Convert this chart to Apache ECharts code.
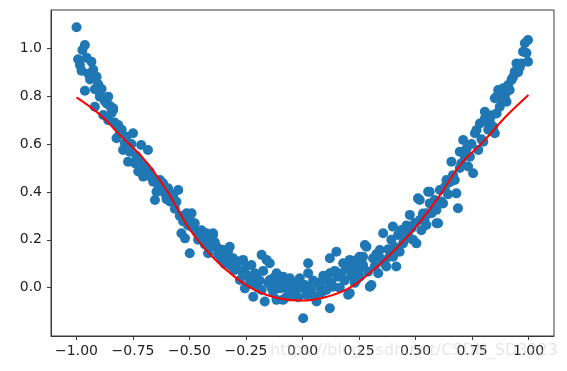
<!DOCTYPE html>
<html>
<head>
<meta charset="utf-8">
<script src="https://cdn.jsdelivr.net/npm/echarts@6/dist/echarts.min.js"></script>
<style>html,body{margin:0;padding:0;background:#fff;}#c{width:567px;height:371px;}</style>
</head>
<body>
<div id="c"></div>
<script>
var xTicks = [-1.0, -0.75, -0.5, -0.25, 0.0, 0.25, 0.5, 0.75, 1.0];
var yTicks = [0.0, 0.2, 0.4, 0.6, 0.8, 1.0];

var scatterPts = [
[-1.0,1.088],[-0.993,0.954],[-0.985,0.93],[-0.978,0.906],[-0.974,0.993],[-0.963,1.014],[-0.963,0.823],[-0.955,0.96],[-0.948,0.894],[-0.94,0.87],[-0.934,0.944],[-0.926,0.91],[-0.919,0.829],[-0.919,0.756],[-0.911,0.881],[-0.904,0.85],
[-0.897,0.798],[-0.889,0.83],[-0.882,0.721],[-0.875,0.78],[-0.867,0.770],[-0.86,0.798],[-0.86,0.70],[-0.853,0.76],[-0.845,0.73],[-0.838,0.749],[-0.838,0.742],[-0.831,0.69],[-0.823,0.624],[-0.816,0.672],[-0.816,0.68],[-0.808,0.645],
[-0.8,0.66],[-0.794,0.575],[-0.786,0.603],[-0.779,0.63],[-0.772,0.526],[-0.764,0.568],[-0.757,0.6],[-0.75,0.645],[-0.742,0.52],[-0.735,0.55],[-0.727,0.485],[-0.72,0.526],[-0.714,0.596],[-0.705,0.464],[-0.7,0.51],
[-0.69,0.499],[-0.684,0.575],[-0.676,0.485],[-0.668,0.46],[-0.661,0.443],[-0.653,0.366],[-0.646,0.401],[-0.639,0.429],[-0.631,0.45],[-0.624,0.41],[-0.617,0.436],[-0.609,0.394],[-0.602,0.37],
[-0.595,0.415],[-0.587,0.36],[-0.58,0.39],[-0.572,0.380],[-0.565,0.33],[-0.558,0.359],[-0.55,0.408],[-0.543,0.3],[-0.536,0.227],[-0.528,0.276],[-0.52,0.206],[-0.513,0.311],[-0.506,0.26],[-0.499,0.29],[-0.499,0.144],
[-0.491,0.311],[-0.484,0.25],[-0.477,0.269],[-0.469,0.234],[-0.462,0.2],[-0.454,0.220],[-0.447,0.24],[-0.44,0.227],[-0.432,0.18],[-0.425,0.192],[-0.425,0.227],[-0.418,0.144],[-0.41,0.21],[-0.403,0.17],
[-0.396,0.220],[-0.396,0.227],[-0.388,0.19],[-0.381,0.171],[-0.374,0.14],[-0.366,0.16],[-0.359,0.12],[-0.351,0.157],[-0.344,0.1],[-0.337,0.129],[-0.33,0.15],[-0.322,0.171],[-0.315,0.09],[-0.307,0.123],[-0.3,0.074],
[-0.293,0.1],[-0.285,0.109],[-0.277,0.032],[-0.27,0.07],[-0.263,0.116],[-0.255,-0.003],[-0.248,0.088],[-0.241,0.05],[-0.233,0.02],[-0.226,0.095],[-0.218,0.018],[-0.218,-0.038],[-0.211,0.06],[-0.204,0.046],
[-0.196,0.0],[-0.189,0.03],[-0.181,0.137],[-0.181,-0.010],[-0.174,0.07],[-0.167,-0.058],[-0.159,0.116],[-0.152,0.02],[-0.145,0.032],[-0.145,0.102],[-0.137,0.0],[-0.13,-0.017],[-0.13,0.039],[-0.123,-0.003],[-0.115,0.060],[-0.115,-0.051],[-0.108,0.02],
[-0.1,-0.003],[-0.093,0.03],[-0.086,0.046],[-0.086,-0.051],[-0.078,-0.044],[-0.078,0.011],[-0.071,0.0],[-0.063,-0.02],[-0.056,0.039],[-0.049,0.01],[-0.041,-0.03],[-0.034,-0.017],[-0.027,0.02],[-0.019,-0.04],[-0.012,0.039],[-0.005,0.0],
[0.003,-0.128],[0.010,0.011],[0.018,-0.03],[0.025,0.102],[0.025,0.060],[0.033,0.0],[0.040,-0.017],[0.047,0.03],[0.055,-0.04],[0.062,-0.058],[0.07,0.02],[0.077,0.004],[0.084,-0.02],[0.092,0.05],[0.099,0.032],
[0.106,-0.01],[0.114,0.03],[0.121,0.060],[0.121,0.123],[0.121,-0.086],[0.128,0.02],[0.135,0.004],[0.143,0.07],[0.15,0.150],[0.157,0.046],[0.165,0.0],[0.172,0.06],[0.18,0.102],[0.187,0.03],[0.194,0.08],
[0.202,-0.030],[0.209,0.116],[0.209,-0.023],[0.216,0.05],[0.224,0.088],[0.231,0.02],[0.239,0.032],[0.239,0.116],[0.246,0.07],[0.253,0.129],[0.253,0.046],[0.261,0.09],[0.268,0.095],[0.268,0.129],[0.276,0.178],[0.283,0.171],[0.29,0.067],[0.298,0.004],
[0.305,0.011],[0.312,0.123],[0.32,0.09],[0.327,0.14],[0.335,0.06],[0.342,0.157],[0.349,0.12],[0.357,0.227],[0.364,0.1],[0.371,0.088],[0.379,0.16],[0.386,0.13],[0.393,0.2],[0.4,0.255],[0.401,0.129],
[0.408,0.17],[0.415,0.088],[0.423,0.22],[0.43,0.15],[0.438,0.241],[0.445,0.185],[0.452,0.2],[0.46,0.26],[0.467,0.22],[0.475,0.304],[0.482,0.248],[0.489,0.2],[0.497,0.27],
[0.504,0.185],[0.511,0.373],[0.519,0.283],[0.519,0.366],[0.526,0.24],[0.533,0.31],[0.541,0.29],[0.548,0.262],[0.548,0.311],[0.556,0.401],[0.563,0.352],[0.563,0.401],[0.571,0.311],[0.578,0.34],[0.585,0.366],[0.593,0.325],[0.593,0.269],[0.6,0.269],
[0.608,0.408],[0.615,0.36],[0.622,0.352],[0.63,0.42],[0.637,0.45],[0.644,0.39],[0.652,0.44],[0.659,0.526],[0.666,0.47],[0.674,0.45],[0.681,0.394],[0.688,0.332],[0.696,0.568],[0.696,0.5],
[0.703,0.52],[0.711,0.617],[0.718,0.55],[0.726,0.58],[0.733,0.506],[0.741,0.547],[0.748,0.6],[0.755,0.478],[0.763,0.645],[0.77,0.658],[0.778,0.575],[0.785,0.686],[0.792,0.62],[0.8,0.61],
[0.807,0.735],[0.807,0.707],[0.814,0.693],[0.822,0.66],[0.829,0.7],[0.837,0.72],[0.844,0.672],[0.844,0.651],[0.851,0.645],[0.851,0.791],[0.859,0.728],[0.859,0.798],[0.866,0.826],[0.873,0.756],[0.881,0.791],[0.888,0.812],[0.888,0.833],[0.895,0.8],
[0.903,0.777],[0.903,0.819],[0.91,0.847],[0.917,0.826],[0.925,0.868],[0.932,0.88],[0.939,0.902],[0.947,0.937],[0.954,0.9],[0.961,0.92],[0.969,0.937],[0.976,0.986],[0.984,1.021],[0.991,0.98],[0.998,1.035],[0.998,0.944]
];

var fitX = [-1.0,-0.9,-0.8,-0.7,-0.6,-0.5,-0.4,-0.3,-0.2,-0.1,0.0,0.1,0.2,0.3,0.4,0.5,0.6,0.7,0.8,0.9,1.0];
var fitY = [0.795,0.725,0.63,0.535,0.405,0.245,0.13,0.045,-0.015,-0.045,-0.054,-0.04,-0.005,0.063,0.15,0.252,0.375,0.515,0.61,0.715,0.805];

var watermark = 'https://blog.csdn.net/CSDN_SD3223';

var fitData = fitX.map(function (x, i) { return [x, fitY[i]]; });
function fmt(v, d) { return v.toFixed(d).replace('-', '\u2212'); }

var chart = echarts.init(document.getElementById('c'), null, {renderer: 'canvas'});
chart.setOption({
  animation: false,
  backgroundColor: '#ffffff',
  grid: {left: 51, right: 13, top: 10, bottom: 35, show: true, borderColor: '#3a3a3a', borderWidth: 1, backgroundColor: 'transparent'},
  xAxis: {
    type: 'value', min: -1.113, max: 1.113,
    splitLine: {show: false},
    axisLine: {show: true, onZero: false, lineStyle: {color: '#3a3a3a', width: 1}},
    axisTick: {show: true, length: 4, customValues: xTicks, lineStyle: {color: '#3a3a3a'}},
    axisLabel: {customValues: xTicks, margin: 8, color: '#222222', fontFamily: 'DejaVu Sans', fontSize: 14,
      formatter: function (v) { return fmt(v, 2); }}
  },
  yAxis: {
    type: 'value', min: -0.202, max: 1.16,
    splitLine: {show: false},
    axisLine: {show: true, onZero: false, lineStyle: {color: '#3a3a3a', width: 1}},
    axisTick: {show: true, length: 4, customValues: yTicks, lineStyle: {color: '#3a3a3a'}},
    axisLabel: {customValues: yTicks, margin: 9, color: '#222222', fontFamily: 'DejaVu Sans', fontSize: 14,
      formatter: function (v) { return fmt(v, 1); }}
  },
  graphic: [{
    type: 'text', left: 270, top: 343, z: 100,
    style: {text: watermark, fill: 'rgba(200,200,200,0.45)', font: '16px "DejaVu Sans"'}
  }],
  series: [
    {type: 'scatter', data: scatterPts, symbol: 'circle', symbolSize: 10,
     itemStyle: {color: '#1f77b4', opacity: 1}, z: 2},
    {type: 'line', data: fitData, smooth: 0.4, showSymbol: false, symbol: 'none',
     lineStyle: {color: '#ff0000', width: 2}, z: 3}
  ]
});
</script>
</body>
</html>
